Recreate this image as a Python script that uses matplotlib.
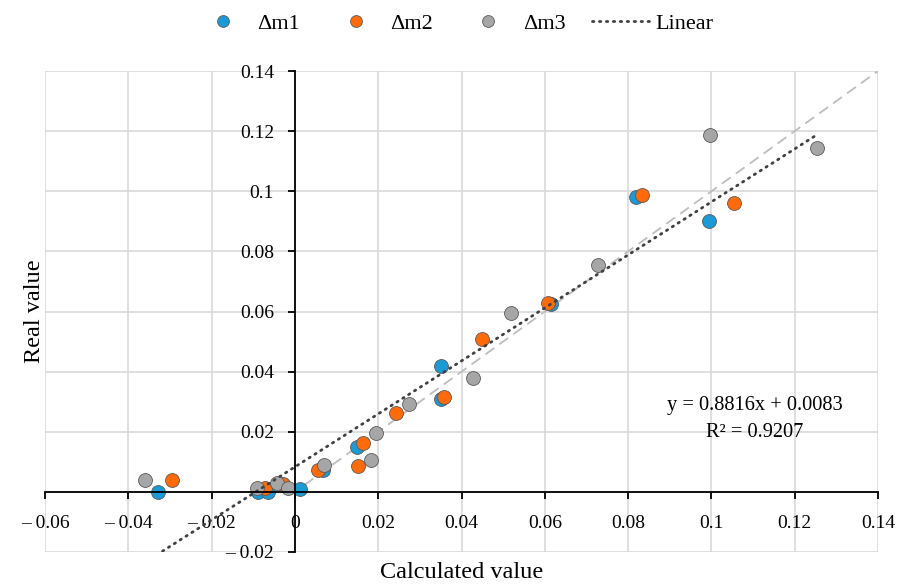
import numpy as np
import matplotlib
matplotlib.use('Agg')
import matplotlib.pyplot as plt
from matplotlib.lines import Line2D

# calculated / real values
dm1_x = [-0.0329, -0.0089, -0.0065, 0.0012, 0.0067, 0.0149, 0.0350, 0.0350, 0.0615, 0.0819, 0.0994]
dm1_y = [0.0000, 0.0000, 0.0000, 0.0010, 0.0073, 0.0150, 0.0310, 0.0420, 0.0626, 0.0982, 0.0902]
dm2_x = [-0.0295, -0.0072, -0.0029, 0.0055, 0.0163, 0.0151, 0.0242, 0.0358, 0.0449, 0.0607, 0.0833, 0.1054]
dm2_y = [0.0040, 0.0013, 0.0027, 0.0073, 0.0163, 0.0087, 0.0263, 0.0317, 0.0509, 0.0629, 0.0988, 0.0962]
dm3_x = [-0.0360, -0.0091, -0.0043, -0.0017, 0.0070, 0.0182, 0.0194, 0.0274, 0.0427, 0.0519, 0.0727, 0.0996, 0.1253]
dm3_y = [0.0040, 0.0013, 0.0030, 0.0013, 0.0090, 0.0107, 0.0196, 0.0293, 0.0379, 0.0596, 0.0755, 0.1188, 0.1145]

slope = 0.8816
intercept = 0.0083
r2 = 0.9207

x_ticks = [-0.06, -0.04, -0.02, 0, 0.02, 0.04, 0.06, 0.08, 0.1, 0.12, 0.14]
y_ticks = [-0.02, 0, 0.02, 0.04, 0.06, 0.08, 0.1, 0.12, 0.14]

plt.rcParams['font.family'] = ['Liberation Serif', 'DejaVu Serif']
Fontsize = 14

BLUE = '#1b9ad6'
ORANGE = '#ff6a0a'
GREY = '#a6a6a6'
EDGE = '#5a5a5a'
TREND_STYLE = (0, (0.5, 2.0))


def fmt(v):
    if abs(v) < 1e-12:
        return '0'
    s = ('%.2f' % abs(v)).rstrip('0')
    return ('\u2013 ' + s) if v < 0 else s


fig = plt.figure(figsize=(9.02, 5.84), dpi=100)
ax = fig.add_axes([0.0499, 0.0548, 0.9235, 0.8236])

ax.set_xlim(-0.06, 0.14)
ax.set_ylim(-0.02, 0.14)
ax.set_xticks(x_ticks)
ax.set_yticks(y_ticks)
ax.set_xticklabels([fmt(v) for v in x_ticks])
ax.set_yticklabels([fmt(v) for v in y_ticks])
ax.grid(True, color='#d9d9d9', linewidth=1.2)
ax.set_axisbelow(True)

for side in ['top', 'right']:
    ax.spines[side].set_visible(False)
ax.spines['left'].set_position(('data', 0))
ax.spines['bottom'].set_position(('data', 0))
ax.spines['left'].set_linewidth(1.3)
ax.spines['bottom'].set_linewidth(1.3)
ax.tick_params(direction='out', length=5, width=1.3, color='black', labelsize=Fontsize)
ax.tick_params(axis='x', pad=12)
ax.tick_params(axis='y', pad=10)

# y = x reference line
ref = np.array([-0.001, 0.14])
ax.plot(ref, ref, color='#bdbdbd', linewidth=1.3, linestyle=(0, (6, 3.5)), zorder=1.5)

# linear trendline
all_x = dm1_x + dm2_x + dm3_x
tx = np.array([min(all_x), max(all_x)])
ax.plot(tx, slope * tx + intercept, color='#404040', linewidth=2.0,
        linestyle=TREND_STYLE, dash_capstyle='round', zorder=2)

mk = dict(s=100, edgecolors=EDGE, linewidths=0.6, zorder=1.8)
ax.scatter(dm1_x, dm1_y, color=BLUE, **mk)
ax.scatter(dm2_x, dm2_y, color=ORANGE, **mk)
ax.scatter(dm3_x, dm3_y, color=GREY, **mk)

ax.text(0.1104, 0.0242, 'y = %.4fx + %.4f\nR\u00b2 = %.4f' % (slope, intercept, r2),
        ha='center', va='center', fontsize=14.7, linespacing=1.55)

ax.set_xlabel('Calculated value', fontsize=17.5)
ax.set_ylabel('Real value', fontsize=17.5)
ax.xaxis.set_label_coords(0.5006, -0.021)
ax.yaxis.set_label_coords(0.0, 0.5)

handles = [
    Line2D([], [], marker='o', linestyle='None', markersize=8.5, markerfacecolor=BLUE,
           markeredgecolor=EDGE, markeredgewidth=0.6),
    Line2D([], [], marker='o', linestyle='None', markersize=8.5, markerfacecolor=ORANGE,
           markeredgecolor=EDGE, markeredgewidth=0.6),
    Line2D([], [], marker='o', linestyle='None', markersize=8.5, markerfacecolor=GREY,
           markeredgecolor=EDGE, markeredgewidth=0.6),
    Line2D([], [], color='#404040', linewidth=2.0, linestyle=TREND_STYLE,
           dash_capstyle='round'),
]
fig.legend(handles, ['\u0394m1', '\u0394m2', '\u0394m3', 'Linear'], loc='center',
           bbox_to_anchor=(0.503, 0.959), ncol=4, frameon=False, fontsize=16,
           handlelength=2.6, columnspacing=1.2, handletextpad=0.25)

fig.savefig('out.png', dpi=100)
